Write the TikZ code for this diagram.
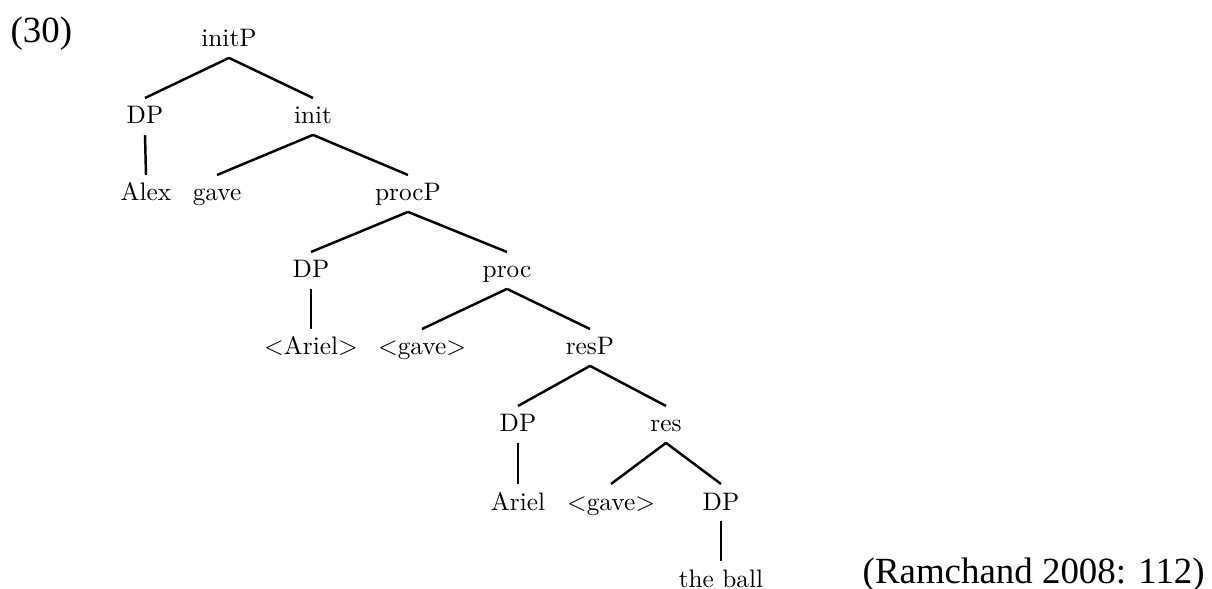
\documentclass[tikz,border=0pt]{standalone}
\usepackage{fontspec}
\newfontfamily\exfont{Liberation Serif}
\newfontfamily\treefont{lmroman10-regular}[Extension=.otf]
\usetikzlibrary{positioning}

\begin{document}
\begin{tikzpicture}[
    cat/.style={inner sep=0pt, text height=7.2pt, text depth=2.9pt, anchor=base, font=\fontsize{7.2}{8.6}\treefont},
    ex/.style={inner sep=0pt, anchor=base west, font=\fontsize{10.5}{12.6}\exfont},
    branch/.style={line width=0.7pt}
]
\useasboundingbox (0,0) rectangle (12.12,-5.89);
\node [ex] (exnum) at (0.10,-0.43) {(30)};
\node [ex] (source) at (8.62,-5.83) {(Ramchand 2008: 112)};
% initP layer
\node [cat] (initP) at (2.29,-0.47) {initP};
\node [cat] (dpa) at (1.45,-1.24) {DP};
\node [cat] (init) at (3.13,-1.24) {init};
\node [cat] (alex) at (1.46,-2.01) {Alex};
\node [cat] (gave) at (2.17,-2.01) {gave};
% procP layer
\node [cat] (procP) at (4.08,-2.01) {procP};
\node [cat] (dpb) at (3.11,-2.78) {DP};
\node [cat] (proc) at (5.07,-2.78) {proc};
\node [cat] (arielt) at (3.11,-3.55) {<Ariel>};
\node [cat] (gavet) at (4.22,-3.55) {<gave>};
% resP layer
\node [cat] (resP) at (5.90,-3.55) {resP};
\node [cat] (dpc) at (5.18,-4.32) {DP};
\node [cat] (res) at (6.66,-4.32) {res};
\node [cat] (ariel) at (5.18,-5.10) {Ariel};
\node [cat] (gaveu) at (6.11,-5.10) {<gave>};
\node [cat] (dpd) at (7.21,-5.10) {DP};
\node [cat] (ball) at (7.21,-5.87) {the ball};
% branches
\draw [branch] (initP.south) -- (dpa.north);
\draw [branch] (initP.south) -- (init.north);
\draw [branch] (dpa.south) -- (alex.north);
\draw [branch] (init.south) -- (gave.north);
\draw [branch] (init.south) -- (procP.north);
\draw [branch] (procP.south) -- (dpb.north);
\draw [branch] (procP.south) -- (proc.north);
\draw [branch] (dpb.south) -- (arielt.north);
\draw [branch] (proc.south) -- (gavet.north);
\draw [branch] (proc.south) -- (resP.north);
\draw [branch] (resP.south) -- (dpc.north);
\draw [branch] (resP.south) -- (res.north);
\draw [branch] (dpc.south) -- (ariel.north);
\draw [branch] (res.south) -- (gaveu.north);
\draw [branch] (res.south) -- (dpd.north);
\draw [branch] (dpd.south) -- (ball.north);
\end{tikzpicture}
\end{document}
